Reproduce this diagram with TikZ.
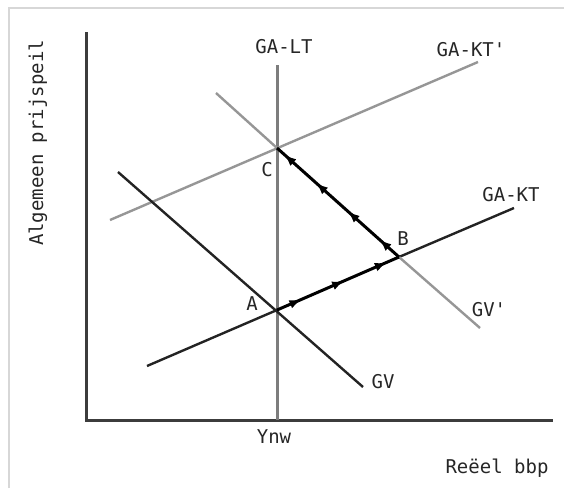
\documentclass[tikz,border=0pt]{standalone}
\usepackage{fontspec}
\setmainfont{DejaVu Sans Mono}
\usepackage{tikz}
\usetikzlibrary{arrows.meta,positioning,decorations.markings}
\usepackage{xcolor}
\definecolor{axisgray}{RGB}{60,60,60}
\definecolor{ltgray}{RGB}{125,125,125}
\definecolor{curvedark}{RGB}{35,35,35}
\definecolor{curvelight}{RGB}{150,150,150}
\definecolor{framegray}{RGB}{215,215,215}
\tikzset{
  axis/.style={line width=3pt, axisgray},
  longrun/.style={line width=3pt, ltgray},
  curve/.style={line width=2.4pt, curvedark},
  curvegray/.style={line width=2.4pt, curvelight},
  flow/.style 2 args={curve, line width=3pt, black, postaction={decorate},
    decoration={markings, mark=between positions #1 and 0.94 step #2
      with {\arrow{Latex[length=12pt,width=9pt]}}}},
  lbl/.style={font=\fontsize{19}{21}\selectfont, text=black!85, inner sep=1pt},
}

\begin{document}
\begin{tikzpicture}[x=1pt, y=-1pt]
\useasboundingbox (0,0) rectangle (564,488);
% frame
\draw[framegray, line width=1.5pt] (9,488) -- (9,8) -- (564,8);

% axes
\coordinate (O) at (86,420);
\coordinate (ytop) at (86,32);
\coordinate (xend) at (553,420);
\draw[axis] (ytop) -- (O) -- (xend);
\node[lbl, rotate=90] (ylabel) at (38,143) {Algemeen prijspeil};
\node[lbl] (xlabel) at (497,468) {Reëel bbp};

% equilibrium points
\coordinate (A) at (277,310);
\coordinate (B) at (399,257);
\coordinate (C) at (277,148);

% long run supply
\coordinate (ltbot) at (277,420);
\coordinate (lttop) at (277,65);
\draw[longrun] (ltbot) -- (lttop);
\node[lbl] (ltlabel) at (284,47) {GA-LT};
\node[lbl] (ynw) at (274,437) {Ynw};

% short run supply, old and new
\coordinate (kt1) at (147,366);
\coordinate (kt2) at (514,208);
\coordinate (ktn1) at (110,220);
\coordinate (ktn2) at (478,62);
\draw[curvegray] (ktn1) -- (ktn2);
\node[lbl] (ktnlabel) at (471,50) {GA-KT\textquotesingle};
\draw[curve] (kt1) -- (A);
\draw[curve] (B) -- (kt2);
\node[lbl] (ktlabel) at (511,195) {GA-KT};

% demand, old and new
\coordinate (gv1) at (118,172);
\coordinate (gv2) at (363,387);
\coordinate (gvn1) at (216,93);
\coordinate (gvn2) at (480,328);
\draw[curve] (gv1) -- (gv2);
\node[lbl] (gvlabel) at (383,382) {GV};
\draw[curvegray] (gvn1) -- (C);
\draw[curvegray] (B) -- (gvn2);
\node[lbl] (gvnlabel) at (489,310) {GV\textquotesingle};

% adjustment path
\draw[flow={0.2}{0.35}] (A) -- (B);
\draw[flow={0.16}{0.26}] (B) -- (C);

\node[lbl] (alabel) at (252,304) {A};
\node[lbl] (blabel) at (403,239) {B};
\node[lbl] (clabel) at (267,170) {C};
\end{tikzpicture}
\end{document}
